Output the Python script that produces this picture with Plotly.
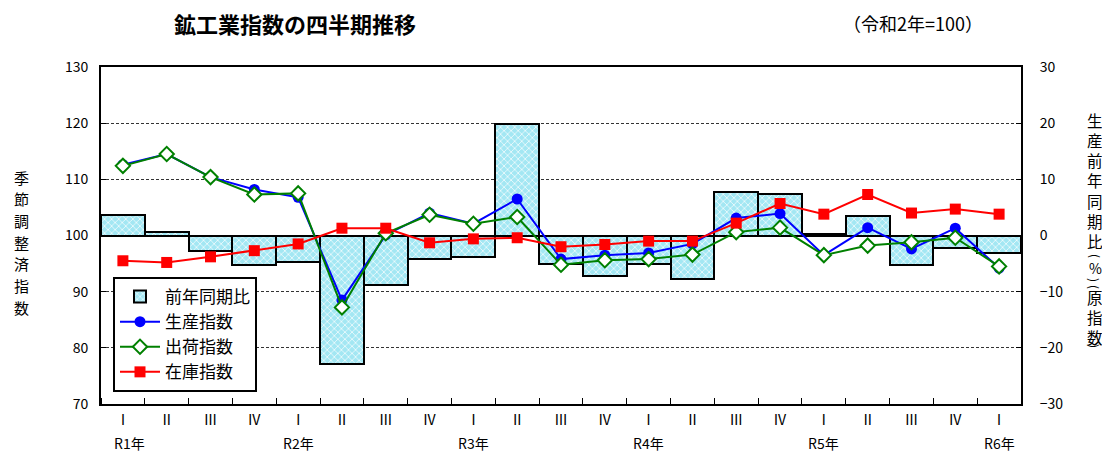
import plotly.graph_objects as go

# ---- data ----
quarter_labels = ["Ⅰ", "Ⅱ", "Ⅲ", "Ⅳ"] * 5 + ["Ⅰ"]
year_labels = ["R1年", "R2年", "R3年", "R4年", "R5年", "R6年"]
year_positions = [0, 4, 8, 12, 16, 20]

yoy = [3.6, 0.6, -2.7, -5.3, -4.7, -22.8, -8.8, -4.2, -3.9, 19.8, -5.1,
       -7.2, -5.0, -7.8, 7.7, 7.4, 0.3, 3.5, -5.3, -2.3, -3.2]
production = [112.6, 114.5, 110.4, 108.2, 106.8, 88.5, 100.1, 104.0, 102.1, 106.5, 95.8,
              96.5, 96.9, 98.5, 103.1, 103.9, 96.5, 101.4, 97.6, 101.3, 94.2]
shipments = [112.4, 114.5, 110.4, 107.3, 107.5, 87.2, 100.4, 103.7, 102.1, 103.3, 94.8,
             95.6, 95.8, 96.6, 100.6, 101.4, 96.5, 98.2, 98.8, 99.6, 94.5]
inventory = [95.5, 95.2, 96.2, 97.3, 98.5, 101.3, 101.3, 98.7, 99.4, 99.6, 98.0,
             98.4, 99.0, 99.0, 102.2, 105.7, 103.8, 107.3, 104.0, 104.7, 103.8]

x = list(range(len(quarter_labels)))
FONT = "Noto Sans CJK JP"

fig = go.Figure()
fig.add_trace(go.Bar(
    x=x, y=yoy, name="前年同期比", yaxis="y", width=1,
    marker=dict(color="#a3e7f3",
                line=dict(color="black", width=2),
                pattern=dict(shape="x", size=5, solidity=0.25,
                             fgcolor="white", bgcolor="#a3e7f3", fillmode="replace")),
))
fig.add_trace(go.Scatter(
    x=x, y=production, name="生産指数", yaxis="y2", mode="lines+markers",
    line=dict(color="#0000ff", width=2),
    marker=dict(symbol="circle", size=11, color="#0000ff"),
))
fig.add_trace(go.Scatter(
    x=x, y=shipments, name="出荷指数", yaxis="y2", mode="lines+markers",
    line=dict(color="#008000", width=2),
    marker=dict(symbol="diamond", size=11, color="white",
                line=dict(color="#008000", width=2)),
))
fig.add_trace(go.Scatter(
    x=x, y=inventory, name="在庫指数", yaxis="y2", mode="lines+markers",
    line=dict(color="#ff0000", width=2),
    marker=dict(symbol="square", size=11, color="#ff0000"),
))

# page offset (default body margin) and figure geometry
OX, OY = 8, 8
W, H = 1102, 448
PL, PR, PT, PB = 101, 1021, 67, 404          # plot area in page pixels
L, R, T, B = PL - OX, OX + W - PR, PT - OY, OY + H - PB
pw, ph = PR - PL, PB - PT


def px(p):
    return (p - PL) / pw


def py(p):
    return (PB - p) / ph


def txt(xp, yp, text, size, angle=0):
    return dict(x=px(xp), y=py(yp), xref="paper", yref="paper", text=text, showarrow=False,
                xanchor="center", yanchor="middle", textangle=angle,
                font=dict(family=FONT, size=size, color="black"))


annotations = []
for lab, pos in zip(year_labels, year_positions):
    annotations.append(dict(
        x=pos, y=py(443), xref="x", yref="paper", text=lab, showarrow=False,
        xshift=7 if pos == 0 else 0, xanchor="center", yanchor="middle",
        font=dict(family=FONT, size=14, color="black")))

# title and note
annotations.append(txt(295, 23, "<b>鉱工業指数の四半期推移</b>", 22))
annotations.append(txt(913, 23, "（令和2年=100）", 18))

# left vertical axis title (one character per row)
for i, ch in enumerate(["季", "節", "調", "整", "済", "指", "数"]):
    annotations.append(txt(21, 177 + i * 21.7, ch, 15))

# right vertical axis title
annotations.append(txt(1095, 180.5, "<br>".join(["生", "産", "前", "年", "同", "期", "比"]), 15.5))
annotations.append(txt(1095, 256, "(", 12, 90))
annotations.append(txt(1095, 268, "%", 14))
annotations.append(txt(1095, 280, ")", 12, 90))
annotations.append(txt(1095, 287, "(", 12, 90))
annotations.append(txt(1095, 316.5, "<br>".join(["原", "指", "数"]), 15.5))
annotations.append(txt(1095, 346, ")", 12, 90))

fig.update_layout(
    width=W, height=H, autosize=False,
    margin=dict(l=L, r=R, t=T, b=B),
    paper_bgcolor="white", plot_bgcolor="white",
    bargap=0, showlegend=True,
    font=dict(family=FONT, size=14, color="black"),
    xaxis=dict(range=[-0.5, len(x) - 0.5], tickmode="array", tickvals=x, ticktext=quarter_labels,
               ticks="", showgrid=False, zeroline=False,
               showline=True, linecolor="black", linewidth=2, mirror=True,
               ticklabelstandoff=2,
               tickfont=dict(family=FONT, size=14),
               minor=dict(tickmode="array", tickvals=[i - 0.5 for i in range(len(x) + 1)],
                          ticks="inside", ticklen=6, tickcolor="black", tickwidth=1, showgrid=False)),
    yaxis=dict(side="right", range=[-30, 30], dtick=10, tick0=0,
               showgrid=True, gridcolor="#333333", griddash="3px,2px", gridwidth=1,
               zeroline=True, zerolinecolor="black", zerolinewidth=2,
               showline=True, linecolor="black", linewidth=2, mirror=True,
               ticks="inside", ticklen=5, tickcolor="black",
               ticklabelstandoff=14,
               tickfont=dict(family=FONT, size=14)),
    yaxis2=dict(overlaying="y", side="left", range=[70, 130], dtick=10, tick0=70,
                showgrid=False, zeroline=False,
                showline=True, linecolor="black", linewidth=2,
                ticks="inside", ticklen=5, tickcolor="black",
                ticklabelstandoff=8,
                tickfont=dict(family=FONT, size=14)),
    legend=dict(x=px(113), y=py(277), xanchor="left", yanchor="top",
                bgcolor="white", bordercolor="black", borderwidth=2,
                font=dict(family=FONT, size=17), traceorder="normal",
                itemwidth=40, tracegroupgap=0),
    annotations=annotations,
)

fig.write_html("out.html")
